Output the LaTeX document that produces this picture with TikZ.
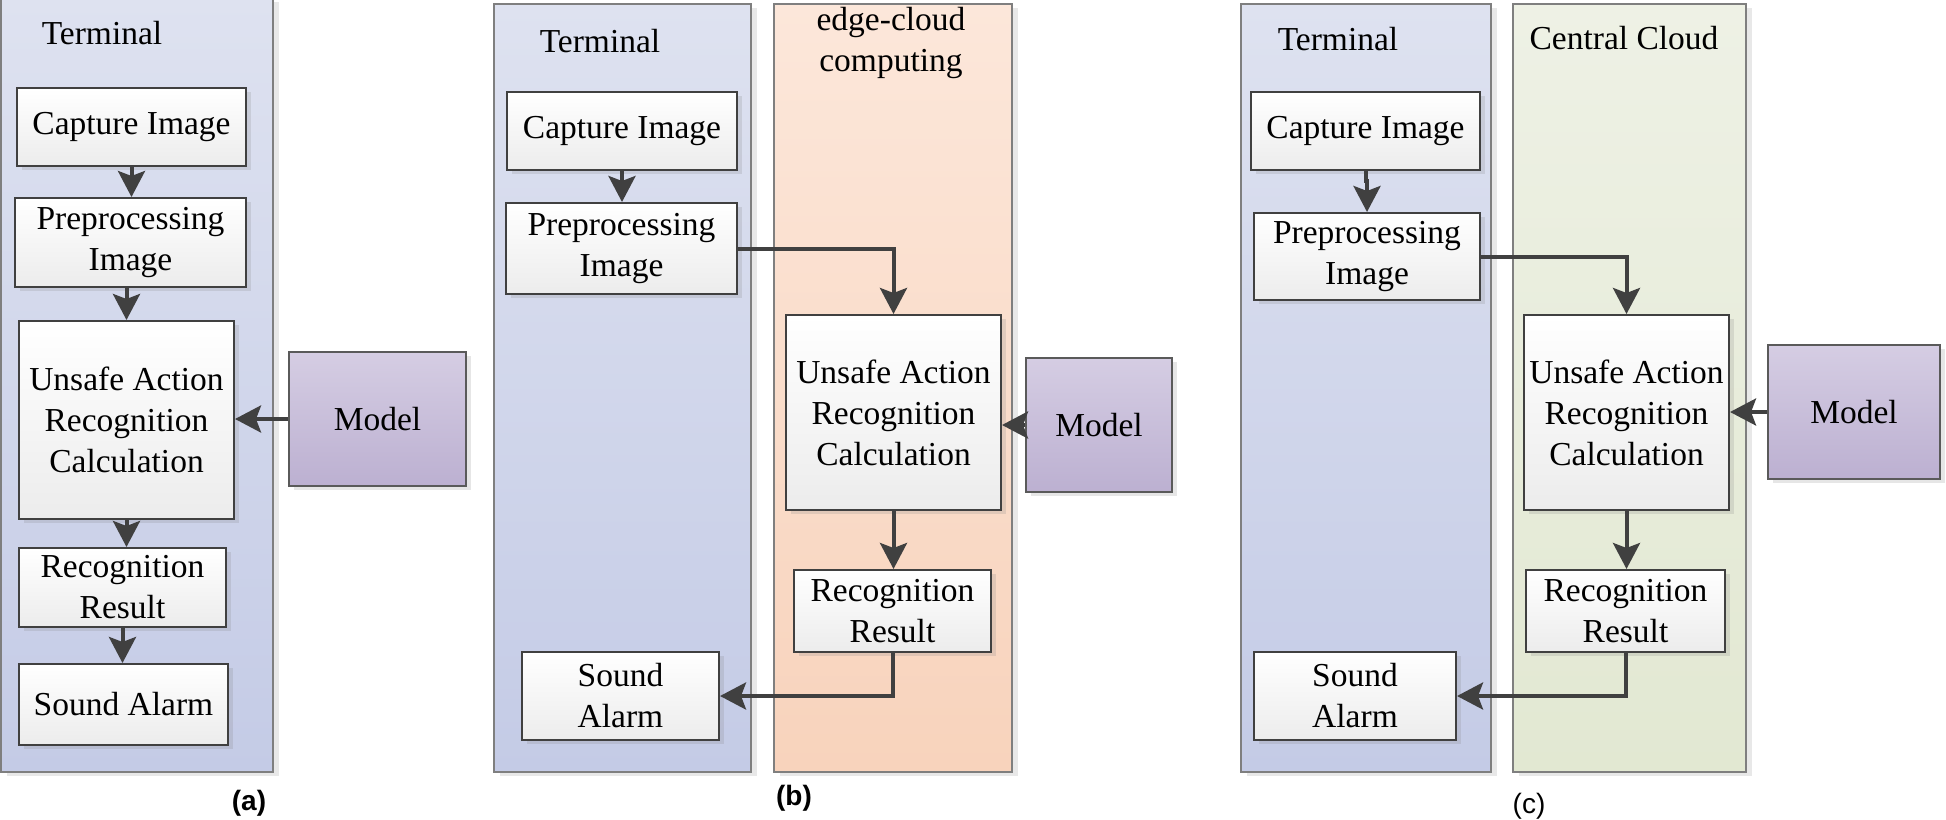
\documentclass[tikz,border=0pt]{standalone}
\usepackage{fontspec}
\setmainfont{Liberation Serif}
\newfontfamily\labfont{Liberation Sans}
\usetikzlibrary{arrows.meta,shadows}
\definecolor{termTop}{HTML}{DEE2F0}
\definecolor{termBot}{HTML}{C4CBE6}
\definecolor{edgeTop}{HTML}{FCE7DA}
\definecolor{edgeBot}{HTML}{F8D3BC}
\definecolor{centTop}{HTML}{EEF1E5}
\definecolor{centBot}{HTML}{E2E8D2}
\definecolor{modTop}{HTML}{D5CDE3}
\definecolor{modBot}{HTML}{BCB0D1}
\definecolor{boxBot}{HTML}{ECECEC}
\definecolor{boxline}{HTML}{404040}
\definecolor{contline}{HTML}{7F7F7F}
\definecolor{modline}{HTML}{5A5A5A}
\definecolor{arrcol}{HTML}{404040}
\newcommand\bxfont{\fontsize{16.75}{20.5}\selectfont}
\tikzset{
  cont/.style={draw=contline, line width=0.9pt, inner sep=0pt,
    drop shadow={shadow xshift=3pt, shadow yshift=-2pt, opacity=0.18}},
  termc/.style={cont, top color=termTop, bottom color=termBot},
  edgec/.style={cont, top color=edgeTop, bottom color=edgeBot},
  centc/.style={cont, top color=centTop, bottom color=centBot},
  box/.style={draw=boxline, line width=1pt, top color=white, bottom color=boxBot,
    inner sep=0pt, align=center, font=\bxfont,
    drop shadow={shadow xshift=2.5pt, shadow yshift=-2pt, opacity=0.2}},
  modelbox/.style={box, top color=modTop, bottom color=modBot, draw=modline},
  lbl/.style={font=\bxfont, inner sep=0pt, align=center},
  sublbl/.style={font=\labfont\fontsize{14}{16}\selectfont, inner sep=0pt},
  arr/.style={draw=arrcol, line width=2pt, -{Stealth[length=13pt,width=13.5pt,inset=2.5pt]}},
}
\begin{document}
\begin{tikzpicture}[x=0.5pt,y=-0.5pt]
\useasboundingbox (0,0) rectangle (1946,819);

% ---------- (a) ----------
\node[termc, minimum width=136pt, minimum height=387pt] (contA) at (137,385) {};
\node[lbl] (termA) at (102,33) {Terminal};
\node[box, minimum width=114.5pt, minimum height=39pt] (capA) at (131.5,127) {Capture Image};
\node[box, minimum width=115.5pt, minimum height=44.5pt] (preA) at (130.5,242.5) {Preprocessing\\Image};
\node[box, minimum width=107.5pt, minimum height=99pt] (unsA) at (126.5,420) {Unsafe Action\\Recognition\\Calculation};
\node[box, minimum width=103.5pt, minimum height=39.5pt] (recA) at (122.5,587.5) {Recognition\\Result};
\node[box, minimum width=104.5pt, minimum height=40.5pt] (sndA) at (123.5,704.5) {Sound Alarm};
\node[modelbox, minimum width=88.5pt, minimum height=67pt] (modA) at (377.5,419) {Model};
\node[sublbl, font=\labfont\bfseries\fontsize{14}{16}\selectfont] (labA) at (249,803) {(a)};

\draw[arr] (capA.south) -- (capA.south |- preA.north);
\draw[arr] (unsA.north |- preA.south) -- (unsA.north);
\draw[arr] (unsA.south) -- (unsA.south |- recA.north);
\draw[arr] (recA.south) -- (recA.south |- sndA.north);
\draw[arr] (modA.west) -- (unsA.east |- modA.west);

% ---------- (b) ----------
\node[termc, minimum width=128.5pt, minimum height=384pt] (contB1) at (622.5,388) {};
\node[edgec, minimum width=119pt, minimum height=384pt] (contB2) at (893,388) {};
\node[lbl] (termB) at (600,41) {Terminal};
\node[lbl] (edgeB) at (891,43) {edge-cloud\\computing};
\node[box, minimum width=115pt, minimum height=39pt] (capB) at (622,131) {Capture Image};
\node[box, minimum width=115.5pt, minimum height=45.5pt] (preB) at (621.5,248.5) {Preprocessing\\Image};
\node[box, minimum width=107.5pt, minimum height=97.5pt] (unsB) at (893.5,412.5) {Unsafe Action\\Recognition\\Calculation};
\node[box, minimum width=98.5pt, minimum height=41pt] (recB) at (892.5,611) {Recognition\\Result};
\node[box, minimum width=98.5pt, minimum height=44pt] (sndB) at (620.5,696) {Sound\\Alarm};
\node[modelbox, minimum width=73pt, minimum height=67pt] (modB) at (1099,425) {Model};
\node[sublbl, font=\labfont\bfseries\fontsize{14}{16}\selectfont] (labB) at (794,798) {(b)};

\draw[arr] (capB.south) -- (capB.south |- preB.north);
\draw[arr] (preB.east) -| (unsB.north);
\draw[arr] (unsB.south) -- (unsB.south |- recB.north);
\draw[arr] (recB.south) |- (sndB.east);
\draw[arr] (modB.west) -- (unsB.east |- modB.west);

% ---------- (c) ----------
\node[termc, minimum width=125pt, minimum height=384pt] (contC1) at (1366,388) {};
\node[centc, minimum width=116.5pt, minimum height=384pt] (contC2) at (1629.5,388) {};
\node[lbl] (termC) at (1338,39) {Terminal};
\node[lbl] (centC) at (1624,38) {Central Cloud};
\node[box, minimum width=114.5pt, minimum height=39pt] (capC) at (1365.5,131) {Capture Image};
\node[box, minimum width=113pt, minimum height=43.5pt] (preC) at (1367,256.5) {Preprocessing\\Image};
\node[box, minimum width=102.5pt, minimum height=97.5pt] (unsC) at (1626.5,412.5) {Unsafe Action\\Recognition\\Calculation};
\node[box, minimum width=99.5pt, minimum height=41pt] (recC) at (1625.5,611) {Recognition\\Result};
\node[box, minimum width=101pt, minimum height=44pt] (sndC) at (1355,696) {Sound\\Alarm};
\node[modelbox, minimum width=86pt, minimum height=67pt] (modC) at (1854,412) {Model};
\node[sublbl] (labC) at (1529,806) {(c)};

\draw[arr] (capC.south) -- ++(0,10) -| (preC.north);
\draw[arr] (preC.east) -| (unsC.north);
\draw[arr] (unsC.south) -- (unsC.south |- recC.north);
\draw[arr] (recC.south) |- (sndC.east);
\draw[arr] (modC.west) -- (unsC.east |- modC.west);
\end{tikzpicture}
\end{document}
